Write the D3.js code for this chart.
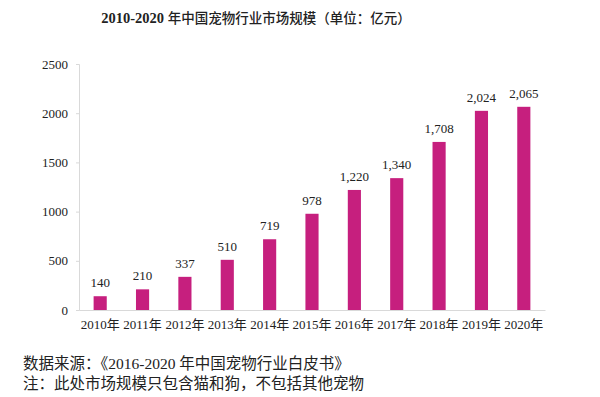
<!DOCTYPE html>
<html>
<head>
<meta charset="utf-8">
<script src="https://cdn.jsdelivr.net/npm/d3@7"></script>
<style>
  body { margin: 0; background: #fff; }
  text { font-family: "Liberation Serif", "Noto Sans CJK SC", serif; fill: #222; }
</style>
</head>
<body>
<div id="chart"></div>
<script>
// data
const years = ['2010年', '2011年', '2012年', '2013年', '2014年', '2015年',
  '2016年', '2017年', '2018年', '2019年', '2020年'];
const marketSize = [140, 210, 337, 510, 719, 978, 1220, 1340, 1708, 2024, 2065];
const yTicks = [0, 500, 1000, 1500, 2000, 2500];

const titleYears = '2010-2020 ';
const titleRest = '年中国宠物行业市场规模（单位：亿元）';
const notes = [
  '数据来源：《2016-2020 年中国宠物行业白皮书》',
  '注：此处市场规模只包含猫和狗，不包括其他宠物'
];

const width = 600;
const height = 397;
const plot = { left: 79, right: 545, top: 64, bottom: 310 };
const barColor = '#C61F7E';

const svg = d3.select('#chart')
    .append('svg')
    .attr('width', width)
    .attr('height', height);

const x = d3.scaleBand()
    .domain(years)
    .range([plot.left, plot.right])
    .paddingInner(0.69)
    .paddingOuter(0.345);

const y = d3.scaleLinear()
    .domain([0, 2500])
    .range([plot.bottom, plot.top]);

// title: bold latin digits, CJK in medium weight
const titleText = svg.append('text')
    .attr('x', 256)
    .attr('y', 23)
    .attr('text-anchor', 'middle')
    .style('font-size', '13.5px');

titleText.append('tspan')
    .style('font-weight', 'bold')
    .style('font-size', '14.5px')
    .text(titleYears);

titleText.append('tspan')
    .style('font-weight', '500')
    .text(titleRest);

// y axis
const yAxis = svg.append('g')
    .attr('transform', 'translate(' + plot.left + ',0)')
    .call(d3.axisLeft(y).tickValues(yTicks).tickSize(3).tickPadding(8).tickFormat(d3.format('d')));

yAxis.select('.domain').attr('stroke', '#d9d9d9');
yAxis.selectAll('.tick line').attr('stroke', '#d9d9d9');
yAxis.selectAll('.tick text')
    .style('font-size', '13px')
    .attr('fill', '#222');

// x axis
const xAxis = svg.append('g')
    .attr('transform', 'translate(0,' + plot.bottom + ')')
    .call(d3.axisBottom(x).tickSize(0).tickPadding(10).tickSizeOuter(0));

xAxis.select('.domain').attr('stroke', '#d9d9d9');
xAxis.selectAll('.tick text')
    .style('font-size', '13px')
    .attr('fill', '#222');

// bars
svg.append('g')
    .selectAll('rect')
    .data(marketSize)
    .enter()
    .append('rect')
    .attr('x', (d, i) => x(years[i]))
    .attr('y', d => y(d))
    .attr('width', x.bandwidth())
    .attr('height', d => plot.bottom - y(d))
    .attr('fill', barColor);

// value labels
svg.append('g')
    .selectAll('text')
    .data(marketSize)
    .enter()
    .append('text')
    .attr('x', (d, i) => x(years[i]) + x.bandwidth() / 2)
    .attr('y', d => y(d) - 9)
    .attr('text-anchor', 'middle')
    .style('font-size', '13px')
    .text(d => d3.format(',')(d));

// footnotes
svg.append('g')
    .selectAll('text')
    .data(notes)
    .enter()
    .append('text')
    .attr('x', 23)
    .attr('y', (d, i) => 369 + i * 20)
    .style('font-size', '15.5px')
    .text(d => d);
</script>
</body>
</html>
